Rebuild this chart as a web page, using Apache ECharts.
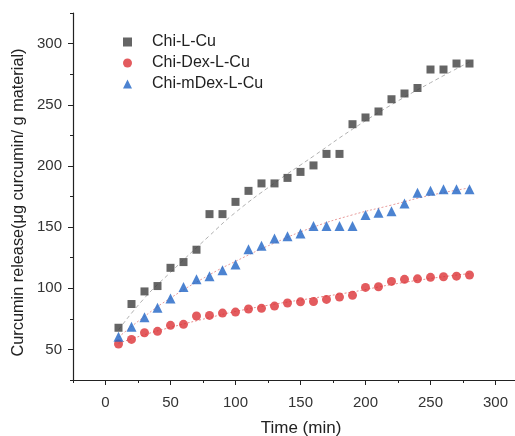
<!DOCTYPE html>
<html>
<head>
<meta charset="utf-8">
<script src="https://cdn.jsdelivr.net/npm/echarts@6/dist/echarts.min.js"></script>
<style>html,body{margin:0;padding:0;background:#fff;}#c{width:515px;height:436px;}</style>
</head>
<body>
<div id="c"></div>
<script>
var time = [10,20,30,40,50,60,70,80,90,100,110,120,130,140,150,160,170,180,190,200,210,220,230,240,250,260,270,280];
var chiL = [67.7,87.1,97.4,101.8,116.7,121.4,131.5,160.6,160.6,170.6,179.6,185.7,185.7,190.2,195.1,200.4,209.8,209.8,234.1,239.6,244.5,254.5,259.2,263.7,278.8,278.8,283.7,283.7];
var chiDex = [54.4,58.2,63.6,64.8,69.7,70.5,77.3,77.8,79.7,80.5,83,83.6,85.4,87.9,88.9,89.2,90.9,92.8,94.2,100.7,101.2,105.6,107.3,107.7,108.9,109.4,109.9,110.8];
var chiMDex = [60.4,68.5,76.2,84.1,91.7,101,107.3,109.9,114.8,119.5,131.8,134.7,140.7,142.5,144.8,150.8,150.8,150.8,150.8,159.8,161.7,163,169.3,178,179.6,181,181,181];
var fitTime = [10,30,50,80,100,130,160,190,220,250,280];
var fitChiL = [66,92,113,143,162,186,208,230,250,268,285];
var fitChiDex = [55,62,68,76,81,87,92,97,103,108,112];
var fitChiMDex = [60,77,92,111,122,137,150,160,168,176,182];
var xMajor = [0,50,100,150,200,250,300];
var yMajor = [50,100,150,200,250,300];
var names = ['Chi-L-Cu','Chi-Dex-L-Cu','Chi-mDex-L-Cu'];

function pairs(xs, ys){ return xs.map(function(x,i){ return [x, ys[i]]; }); }
var font = 'Liberation Sans, Arial, sans-serif';
var chart = echarts.init(document.getElementById('c'));
var lineCol = '#222';
chart.setOption({
  animation: false,
  grid: {left: 73, right: 0, top: 13, bottom: 56, containLabel: false, outerBoundsMode: 'none'},
  legend: {
    orient: 'vertical', left: 118, top: 29, itemWidth: 9, itemHeight: 9, itemGap: 5,
    textStyle: {fontFamily: font, fontSize: 16, color: '#222', lineHeight: 16, padding: [0,0,0,15]},
    data: names
  },
  xAxis: [{
    type: 'value', min: -25, max: 315, interval: 25,
    axisLine: {show: true, onZero: false, lineStyle: {color: lineCol, width: 1.2}},
    axisTick: {show: true, length: 3, lineStyle: {color: lineCol}},
    axisLabel: {show: false}, splitLine: {show: false}
  },{
    type: 'value', min: -25, max: 315, position: 'bottom',
    axisLine: {show: false, onZero: false},
    axisTick: {show: true, length: 5, customValues: xMajor, lineStyle: {color: lineCol}},
    axisLabel: {show: true, customValues: xMajor, margin: 15, fontFamily: font, fontSize: 15, color: '#333'},
    splitLine: {show: false},
    name: 'Time (min)', nameLocation: 'middle', nameGap: 40,
    nameTextStyle: {fontFamily: font, fontSize: 17, color: '#222', padding: [0,0,0,14]}
  }],
  yAxis: [{
    type: 'value', min: 25, max: 325, interval: 25,
    axisLine: {show: true, onZero: false, lineStyle: {color: lineCol, width: 1.2}},
    axisTick: {show: true, length: 3, lineStyle: {color: lineCol}},
    axisLabel: {show: false}, splitLine: {show: false}
  },{
    type: 'value', min: 25, max: 325, position: 'left',
    axisLine: {show: false, onZero: false},
    axisTick: {show: true, length: 5, customValues: yMajor, lineStyle: {color: lineCol}},
    axisLabel: {show: true, customValues: yMajor, margin: 11, fontFamily: font, fontSize: 15, color: '#333'},
    splitLine: {show: false},
    name: 'Curcumin release(μg curcumin/ g material)', nameLocation: 'middle', nameGap: 34,
    nameTextStyle: {fontFamily: font, fontSize: 16.3, color: '#222', padding: [0,12,0,0]}
  }],
  series: [
    {type: 'line', data: pairs(fitTime, fitChiL), smooth: true, symbol: 'none', silent: true,
     lineStyle: {color: '#b0b0b0', width: 1, type: [4,3]}, z: 1},
    {type: 'line', data: pairs(fitTime, fitChiDex), smooth: true, symbol: 'none', silent: true,
     lineStyle: {color: '#e78a8a', width: 1, type: [2,2]}, z: 1},
    {type: 'line', data: pairs(fitTime, fitChiMDex), smooth: true, symbol: 'none', silent: true,
     lineStyle: {color: '#e79a9a', width: 1, type: [2,2]}, z: 1},
    {name: names[0], type: 'scatter', symbol: 'rect', symbolSize: 8, data: pairs(time, chiL),
     itemStyle: {color: '#3f3f3f'}, z: 3},
    {name: names[1], type: 'scatter', symbol: 'circle', symbolSize: 9, data: pairs(time, chiDex),
     itemStyle: {color: '#dc3236'}, z: 3},
    {name: names[2], type: 'scatter', symbol: 'triangle', symbolSize: 10, data: pairs(time, chiMDex),
     itemStyle: {color: '#1f64c6'}, z: 3}
  ]
});
</script>
</body>
</html>
